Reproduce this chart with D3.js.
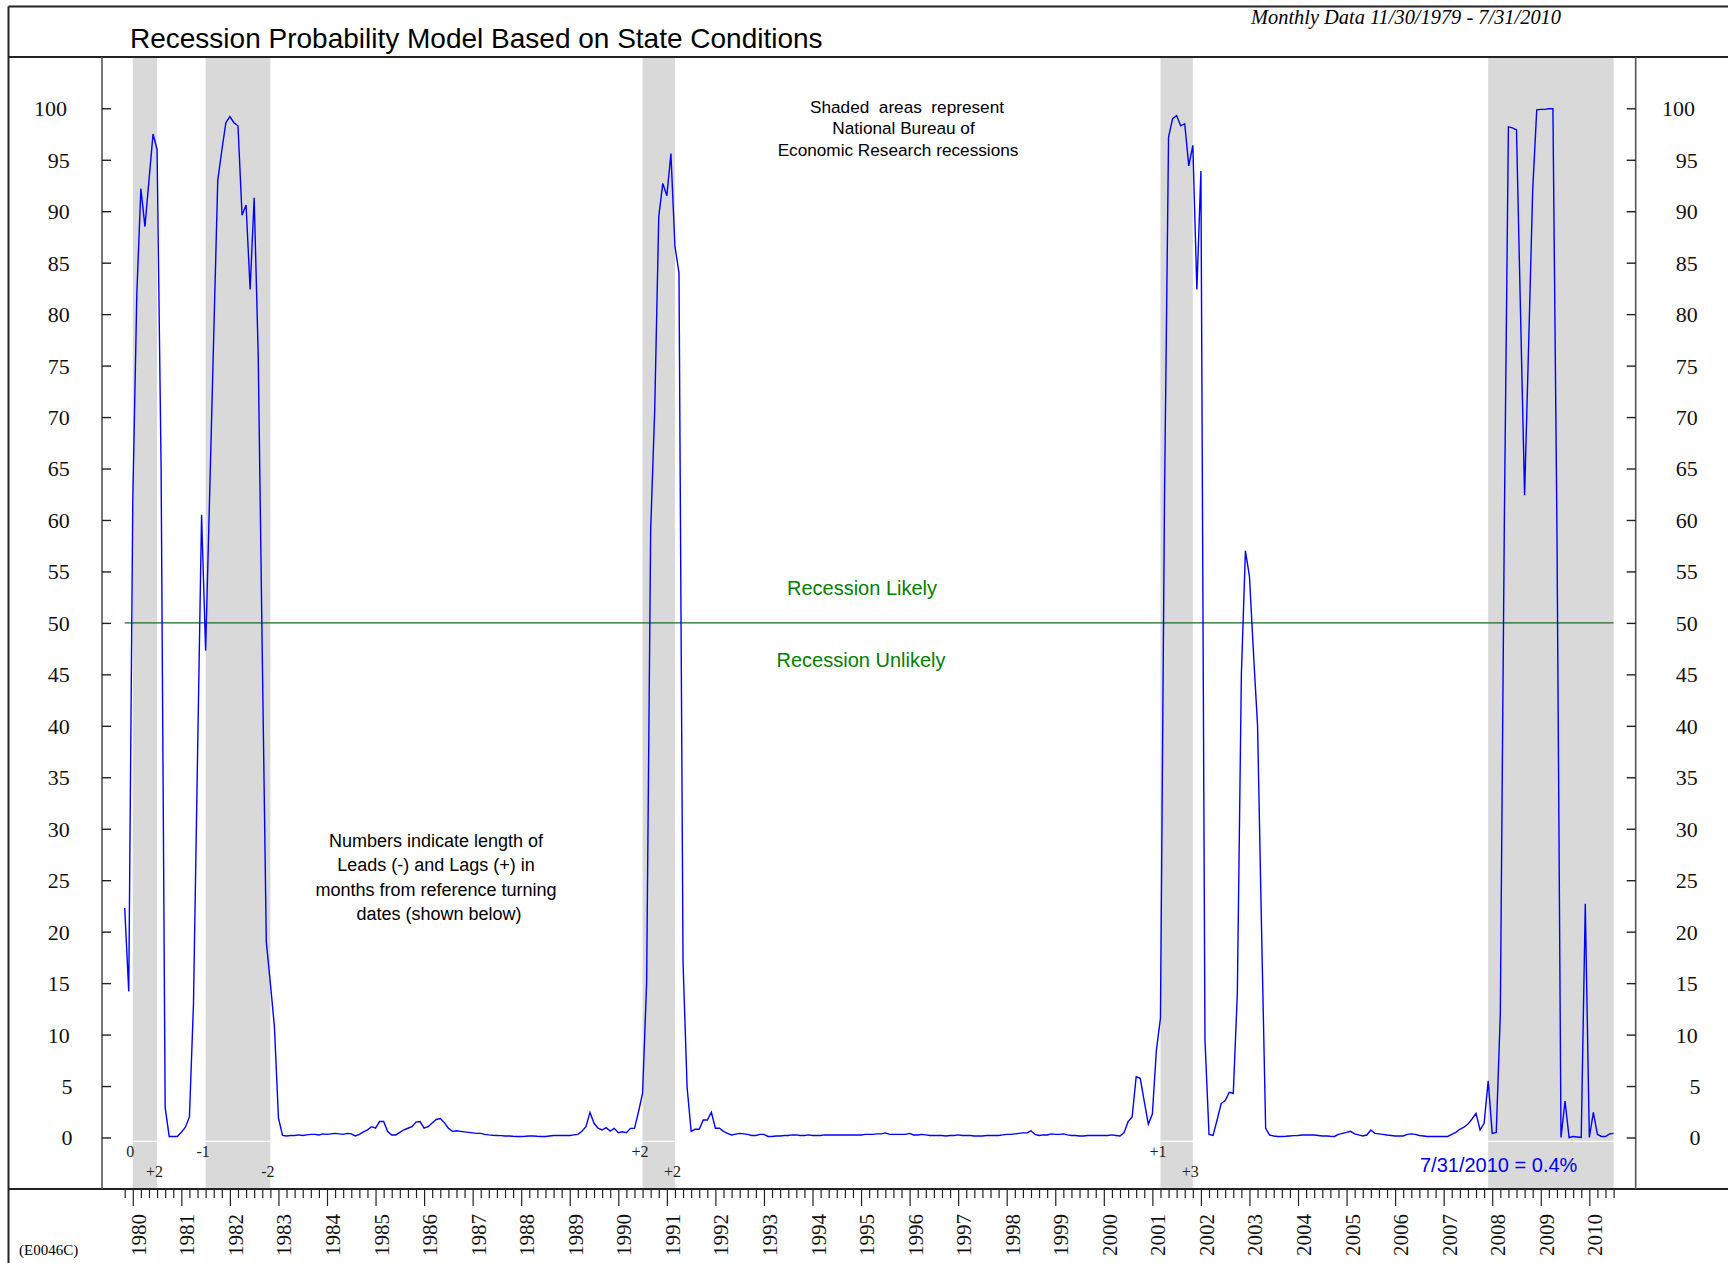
<!DOCTYPE html>
<html><head><meta charset="utf-8">
<script src="https://cdn.jsdelivr.net/npm/d3@7"></script>
<style>body{margin:0;background:#fff}svg{display:block}</style>
</head><body>
<svg id="chart" width="1728" height="1263"></svg>
<script>
// ---------------- data ----------------
const firstObservation = "1979-11";          // monthly data 11/30/1979 - 7/31/2010
const probability = [
  22.3, 14.2, 62, 82, 92.2, 88.5, 93, 97.5, 96, 65,
  2.9, 0.1, 0.1, 0.1, 0.5, 1.0, 2.0, 13, 37, 60.5,
  47.3, 62.5, 77.8, 93, 95.9, 98.6, 99.2, 98.6, 98.3, 89.6,
  90.6, 82.4, 91.3, 76, 47, 19, 15, 10.8, 1.9, 0.2,
  0.15, 0.2, 0.2, 0.25, 0.2, 0.25, 0.3, 0.3, 0.25, 0.35,
  0.3, 0.35, 0.4, 0.35, 0.3, 0.4, 0.35, 0.15, 0.3, 0.55,
  0.75, 1.05, 0.9, 1.55, 1.55, 0.57, 0.25, 0.25, 0.5, 0.75,
  0.9, 1.05, 1.5, 1.55, 0.9, 1.05, 1.4, 1.75, 1.85, 1.45,
  0.9, 0.6, 0.65, 0.6, 0.55, 0.5, 0.45, 0.4, 0.4, 0.3,
  0.25, 0.22, 0.2, 0.18, 0.15, 0.15, 0.12, 0.1, 0.1, 0.12,
  0.15, 0.15, 0.12, 0.1, 0.1, 0.15, 0.2, 0.2, 0.2, 0.2,
  0.2, 0.25, 0.3, 0.6, 1.05, 2.44, 1.38, 0.9, 0.73, 0.96,
  0.63, 0.89, 0.47, 0.56, 0.47, 0.89, 0.89, 2.5, 4.3, 15,
  59, 70.7, 89.5, 92.7, 91.5, 95.6, 86.6, 84, 17, 4.9,
  0.6, 0.8, 0.8, 1.7, 1.7, 2.45, 0.9, 0.9, 0.6, 0.4,
  0.25, 0.33, 0.4, 0.35, 0.3, 0.2, 0.2, 0.3, 0.3, 0.1,
  0.1, 0.15, 0.15, 0.2, 0.2, 0.25, 0.25, 0.2, 0.2, 0.25,
  0.2, 0.2, 0.2, 0.25, 0.25, 0.25, 0.25, 0.25, 0.25, 0.25,
  0.25, 0.25, 0.25, 0.3, 0.3, 0.3, 0.35, 0.35, 0.45, 0.3,
  0.3, 0.3, 0.3, 0.3, 0.4, 0.25, 0.25, 0.3, 0.25, 0.2,
  0.2, 0.2, 0.2, 0.15, 0.2, 0.2, 0.25, 0.2, 0.2, 0.2,
  0.15, 0.15, 0.15, 0.2, 0.2, 0.2, 0.2, 0.25, 0.3, 0.3,
  0.35, 0.4, 0.45, 0.45, 0.65, 0.3, 0.2, 0.25, 0.25, 0.35,
  0.3, 0.3, 0.35, 0.25, 0.2, 0.2, 0.15, 0.15, 0.2, 0.2,
  0.2, 0.2, 0.2, 0.2, 0.25, 0.2, 0.15, 0.47, 1.54, 2.0,
  5.9, 5.75, 3.5, 1.3, 2.28, 8.5, 11.6, 62, 97.2, 99.0,
  99.3, 98.3, 98.5, 94.4, 96.4, 82.4, 93.9, 9.5, 0.3, 0.2,
  1.7, 3.3, 3.6, 4.4, 4.3, 14, 45, 57, 54.5, 47,
  40, 20, 0.9, 0.24, 0.15, 0.1, 0.1, 0.12, 0.15, 0.18,
  0.2, 0.24, 0.24, 0.24, 0.24, 0.2, 0.15, 0.15, 0.12, 0.1,
  0.3, 0.4, 0.5, 0.6, 0.35, 0.25, 0.15, 0.24, 0.73, 0.4,
  0.35, 0.3, 0.24, 0.2, 0.15, 0.15, 0.15, 0.3, 0.35, 0.3,
  0.2, 0.15, 0.1, 0.1, 0.1, 0.1, 0.1, 0.1, 0.3, 0.5,
  0.8, 1.0, 1.3, 1.8, 2.35, 0.73, 1.38, 5.5, 0.4, 0.5,
  12, 60, 98.2, 98.1, 97.9, 80, 62.4, 77, 92, 99.85,
  99.9, 99.9, 99.95, 99.95, 59, 0, 3.55, 0, 0.1, 0.05,
  0, 22.7, 0, 2.45, 0.3, 0.1, 0.1, 0.35, 0.4
];
const recessionPeaks   = ["1980-01", "1981-07", "1990-07", "2001-03", "2007-12"];
const recessionTroughs = ["1980-07", "1982-11", "1991-03", "2001-11", "2010-07"];
const leadLabels = ["0", "-1", "+2", "+1"];   // at peaks
const lagLabels  = ["+2", "-2", "+2", "+3"];  // at troughs
const yTicks = [0,5,10,15,20,25,30,35,40,45,50,55,60,65,70,75,80,85,90,95,100];
const yearLabels = ["1980","1981","1982","1983","1984","1985","1986","1987","1988","1989",
  "1990","1991","1992","1993","1994","1995","1996","1997","1998","1999","2000",
  "2001","2002","2003","2004","2005","2006","2007","2008","2009","2010"];
const threshold = 50;
const lastValueLabel = "7/31/2010 = 0.4%";

// ---------------- helpers ----------------
const [fy, fm] = firstObservation.split("-").map(Number);
const monthIndex = s => { const [yy, mm] = s.split("-").map(Number); return (yy - fy) * 12 + (mm - fm); };

const SERIF = "'Liberation Serif','Times New Roman',serif";
const SANS = "'Liberation Sans',Arial,sans-serif";

const svg = d3.select("#chart");
const plotTop = 57, plotBottom = 1189, axL = 102, axR = 1635.7;

const x = d3.scaleLinear().domain([0, probability.length - 1]).range([124.7, 1613.6]);
const y = d3.scaleLinear().domain([0, 100]).range([1137.5, 108.3]);

svg.append("rect").attr("width", 1728).attr("height", 1263).attr("fill", "#fff");

// recession shading
svg.append("g").selectAll("rect").data(recessionPeaks).join("rect")
  .attr("x", (d) => x(monthIndex(d)))
  .attr("width", (d, i) => x(monthIndex(recessionTroughs[i])) - x(monthIndex(d)))
  .attr("y", plotTop).attr("height", plotBottom - plotTop)
  .attr("fill", "#d9d9d9");
// thin white rule just under the zero line
svg.append("line").attr("x1", axL).attr("x2", axR).attr("y1", y(0) + 3.8).attr("y2", y(0) + 3.8)
  .attr("stroke", "#fff").attr("stroke-width", 1.2);

// frame
const frame = svg.append("g").attr("stroke", "#222").attr("stroke-width", 2);
frame.append("line").attr("x1", 8.5).attr("x2", 1728).attr("y1", 6.5).attr("y2", 6.5);
frame.append("line").attr("x1", 8.5).attr("x2", 8.5).attr("y1", 6.5).attr("y2", 1263);
frame.append("line").attr("x1", 8.5).attr("x2", 1728).attr("y1", plotTop).attr("y2", plotTop);
frame.append("line").attr("x1", 8.5).attr("x2", 1728).attr("y1", plotBottom).attr("y2", plotBottom);

// y axes
svg.append("line").attr("x1", axL).attr("x2", axL).attr("y1", plotTop).attr("y2", plotBottom)
  .attr("stroke", "#555").attr("stroke-width", 1.6);
svg.append("line").attr("x1", axR).attr("x2", axR).attr("y1", plotTop).attr("y2", plotBottom)
  .attr("stroke", "#555").attr("stroke-width", 1.6);
const leftAxis = svg.append("g").attr("transform", `translate(${axL},0)`)
  .call(d3.axisRight(y).tickValues(yTicks).tickSize(9).tickSizeOuter(0).tickFormat(""));
const rightAxis = svg.append("g").attr("transform", `translate(${axR},0)`)
  .call(d3.axisLeft(y).tickValues(yTicks).tickSize(9).tickSizeOuter(0).tickFormat(""));
[leftAxis, rightAxis].forEach(g => { g.select(".domain").remove(); g.selectAll("line").attr("stroke", "#222").attr("stroke-width", 1.4); });

// tick labels: right-aligned, wider numbers nudged slightly left (as in the original)
const labelEnd = (base, d) => base - 2.8 * (String(d).length - 1);
svg.append("g").selectAll("text").data(yTicks).join("text")
  .attr("x", d => labelEnd(72.5, d)).attr("y", d => y(d)).attr("dy", "0.36em").attr("text-anchor", "end")
  .attr("font-family", SERIF).attr("font-size", 22).attr("fill", "#111").text(d => d);
svg.append("g").selectAll("text").data(yTicks).join("text")
  .attr("x", d => labelEnd(1700.5, d)).attr("y", d => y(d)).attr("dy", "0.36em").attr("text-anchor", "end")
  .attr("font-family", SERIF).attr("font-size", 22).attr("fill", "#111").text(d => d);

// x axis ticks (every two months, long at January)
const tickIdx = d3.range(0, probability.length, 2);
const janIdx = yearLabels.map(yr => monthIndex(yr + "-01"));
const minorAxis = svg.append("g").attr("transform", `translate(0,${plotBottom})`)
  .call(d3.axisBottom(x).tickValues(tickIdx.filter(i => !janIdx.includes(i))).tickSize(9).tickSizeOuter(0).tickFormat(""));
const majorAxis = svg.append("g").attr("transform", `translate(0,${plotBottom})`)
  .call(d3.axisBottom(x).tickValues(janIdx).tickSize(17).tickSizeOuter(0).tickFormat(""));
[minorAxis, majorAxis].forEach(g => { g.select(".domain").remove(); g.selectAll("line").attr("stroke", "#222").attr("stroke-width", 1.2); });

svg.append("g").selectAll("text").data(yearLabels).join("text")
  .attr("transform", d => `translate(${x(monthIndex(d + "-01")) + 13},1256) rotate(-90)`)
  .attr("font-family", SERIF).attr("font-size", 21).attr("fill", "#111").text(d => d);

// threshold line
svg.append("line").attr("x1", x(0)).attr("x2", x(probability.length - 1))
  .attr("y1", y(threshold)).attr("y2", y(threshold)).attr("stroke", "#1a6b1a").attr("stroke-width", 1.1);

// probability line
svg.append("path").datum(probability)
  .attr("d", d3.line().x((d, i) => x(i)).y(d => y(d)))
  .attr("fill", "none").attr("stroke", "#0000ff").attr("stroke-width", 1.4).attr("stroke-linejoin", "miter");

// lead / lag labels
svg.append("g").selectAll("text").data(leadLabels).join("text")
  .attr("x", (d, i) => x(monthIndex(recessionPeaks[i])) - 2.5).attr("y", 1157)
  .attr("text-anchor", "middle").attr("font-family", SERIF).attr("font-size", 16).attr("fill", "#222").text(d => d);
svg.append("g").selectAll("text").data(lagLabels).join("text")
  .attr("x", (d, i) => x(monthIndex(recessionTroughs[i])) - 2.5).attr("y", 1177)
  .attr("text-anchor", "middle").attr("font-family", SERIF).attr("font-size", 16).attr("fill", "#222").text(d => d);

// titles
svg.append("text").attr("x", 130).attr("y", 47.5).attr("font-family", SANS).attr("font-size", 28)
  .attr("fill", "#000").text("Recession Probability Model Based on State Conditions");
svg.append("text").attr("x", 1251).attr("y", 24).attr("font-family", SERIF).attr("font-style", "italic")
  .attr("font-size", 20.4).attr("fill", "#000").text("Monthly Data 11/30/1979 - 7/31/2010");
svg.append("text").attr("x", 19).attr("y", 1255).attr("font-family", SERIF).attr("font-size", 15)
  .attr("fill", "#000").text("(E0046C)");

// annotations
const note1 = ["Shaded  areas  represent", "National Bureau of", "Economic Research recessions"];
const note1X = [907, 903.5, 898];
svg.append("g").selectAll("text").data(note1).join("text")
  .attr("x", (d, i) => note1X[i]).attr("y", (d, i) => 112.5 + i * 21.5).attr("text-anchor", "middle")
  .attr("font-family", SANS).attr("font-size", 17.2).attr("fill", "#000")
  .style("white-space", "pre").text(d => d);
const note2 = ["Numbers indicate length of", "Leads (-) and Lags (+) in", "months from reference turning", "dates (shown below)"];
svg.append("g").selectAll("text").data(note2).join("text")
  .attr("x", (d, i) => 436 + (i === 3 ? 3 : 0)).attr("y", (d, i) => 847 + i * 24.3).attr("text-anchor", "middle")
  .attr("font-family", SANS).attr("font-size", 18).attr("fill", "#000").text(d => d);

svg.append("text").attr("x", 862).attr("y", 594.5).attr("text-anchor", "middle")
  .attr("font-family", SANS).attr("font-size", 20).attr("fill", "#008000").text("Recession Likely");
svg.append("text").attr("x", 861).attr("y", 667).attr("text-anchor", "middle")
  .attr("font-family", SANS).attr("font-size", 20).attr("fill", "#008000").text("Recession Unlikely");

svg.append("text").attr("x", 1420).attr("y", 1172).attr("font-family", SANS).attr("font-size", 20)
  .attr("fill", "#0000ff").text(lastValueLabel);
</script>
</body></html>
